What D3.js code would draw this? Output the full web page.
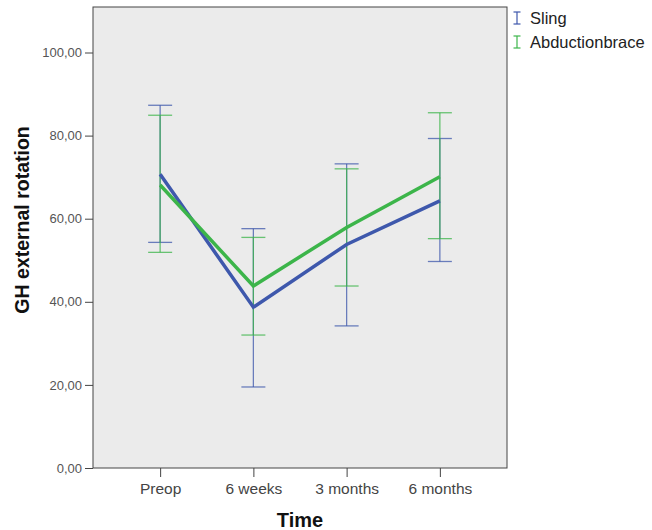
<!DOCTYPE html>
<html><head><meta charset="utf-8">
<script src="https://cdn.jsdelivr.net/npm/d3@7"></script>
<style>body{margin:0;background:#fff}svg{display:block;font-family:"Liberation Sans",Arial,sans-serif}</style>
</head><body><svg id="c" width="652" height="530"></svg>
<script>
const categories = ["Preop", "6 weeks", "3 months", "6 months"];
const seriesNames = ["Sling", "Abductionbrace"];
const slingMean = [70.7, 38.7, 53.8, 64.3];
const slingLow = [54.3, 19.5, 34.2, 49.7];
const slingHigh = [87.3, 57.6, 73.2, 79.3];
const braceMean = [68.1, 43.8, 57.9, 70.1];
const braceLow = [51.9, 32.0, 43.8, 55.2];
const braceHigh = [84.9, 55.5, 72.0, 85.5];
const yTicks = [0, 20, 40, 60, 80, 100];
const colors = ["#3e58ac", "#3cb54a"];

const svg = d3.select("#c");
const L = 93, R = 507, T = 7, B = 468;
const x = d3.scalePoint().domain(categories).range([L, R]).padding(0.72);
const y = d3.scaleLinear().domain([0, 100]).range([B, 52.5]);

svg.append("rect").attr("x", L).attr("y", T).attr("width", R - L).attr("height", B - T)
  .attr("fill", "#ebebeb").attr("stroke", "#444").attr("stroke-width", 1);

const yAxis = d3.axisLeft(y).tickValues(yTicks).tickSize(8).tickPadding(3).tickSizeOuter(0)
  .tickFormat(d => d3.format(".2f")(d).replace(".", ","));
const gy = svg.append("g").attr("transform", `translate(${L},0)`).call(yAxis);
gy.select(".domain").remove();
gy.selectAll("line").attr("stroke", "#444");
gy.selectAll("text").attr("font-size", 13).attr("fill", "#555").attr("font-family", "Liberation Sans, Arial, sans-serif");

const xAxis = d3.axisBottom(x).tickSize(9).tickSizeOuter(0).tickPadding(6);
const gx = svg.append("g").attr("transform", `translate(0,${B})`).call(xAxis);
gx.select(".domain").remove();
gx.selectAll("line").attr("stroke", "#444");
gx.selectAll("text").attr("font-size", 15.5).attr("fill", "#444").attr("font-family", "Liberation Sans, Arial, sans-serif");

svg.append("text").attr("x", 300).attr("y", 527).attr("text-anchor", "middle")
  .attr("font-size", 20).attr("font-weight", "bold").attr("fill", "#111").text("Time");
svg.append("text").attr("transform", `translate(29,220) rotate(-90)`).attr("text-anchor", "middle")
  .attr("font-size", 19.5).attr("font-weight", "bold").attr("fill", "#111").text("GH external rotation");

const series = [
  {name: seriesNames[0], mean: slingMean, low: slingLow, high: slingHigh, color: colors[0]},
  {name: seriesNames[1], mean: braceMean, low: braceLow, high: braceHigh, color: colors[1]}
];
const cap = 12;
series.forEach(s => {
  const g = svg.append("g");
  categories.forEach((c, i) => {
    const cx = x(c);
    g.append("line").attr("x1", cx).attr("x2", cx).attr("y1", y(s.low[i])).attr("y2", y(s.high[i]))
      .attr("stroke", s.color).attr("stroke-width", 1.3).attr("opacity", 0.75);
    [s.low[i], s.high[i]].forEach(v => {
      g.append("line").attr("x1", cx - cap).attr("x2", cx + cap).attr("y1", y(v)).attr("y2", y(v))
        .attr("stroke", s.color).attr("stroke-width", 1.3).attr("opacity", 0.75);
    });
  });
});
const line = d3.line().x((d, i) => x(categories[i])).y(d => y(d));
series.forEach(s => {
  svg.append("path").attr("d", line(s.mean)).attr("fill", "none").attr("stroke", s.color).attr("stroke-width", 3.5);
});

// legend
series.forEach((s, i) => {
  const ly = 18 + i * 24;
  const lx = 517;
  const g = svg.append("g");
  g.append("line").attr("x1", lx).attr("x2", lx).attr("y1", ly - 6).attr("y2", ly + 6).attr("stroke", s.color).attr("stroke-width", 1.2);
  [ly - 6, ly + 6].forEach(v => g.append("line").attr("x1", lx - 3.5).attr("x2", lx + 3.5).attr("y1", v).attr("y2", v).attr("stroke", s.color).attr("stroke-width", 1.2));
  g.append("text").attr("x", 530).attr("y", ly + 6).attr("font-size", 16.5).attr("fill", "#222").text(s.name);
});
</script></body></html>
